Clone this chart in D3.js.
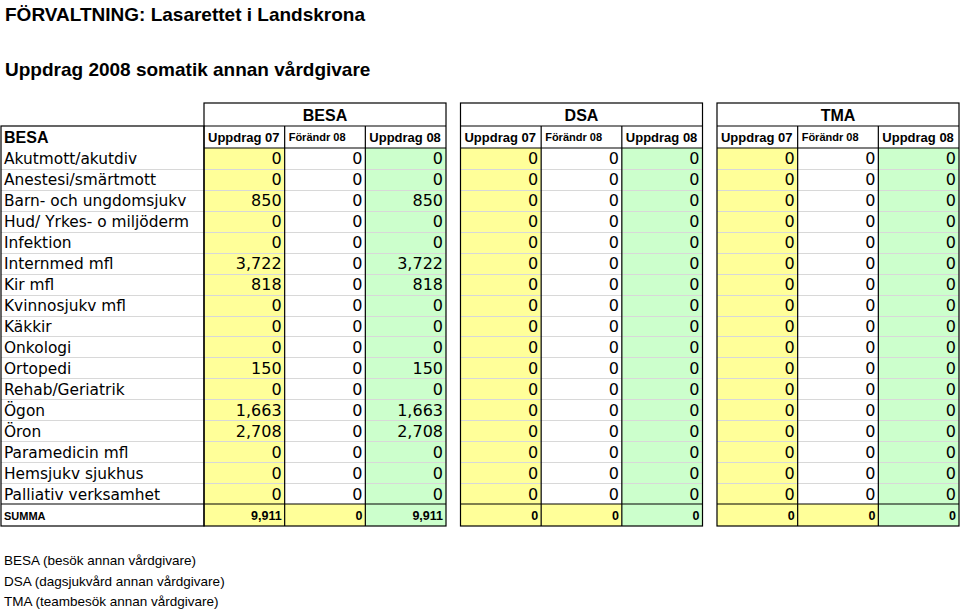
<!DOCTYPE html>
<html><head><meta charset="utf-8">
<script src="https://cdn.jsdelivr.net/npm/d3@7"></script>
<style>body{margin:0;background:#fff}svg{display:block}</style>
</head><body>
<script>
const title = "FÖRVALTNING: Lasarettet i Landskrona";
const subtitle = "Uppdrag 2008 somatik annan vårdgivare";
const groups = ["BESA", "DSA", "TMA"];
const columns = ["Uppdrag 07", "Förändr 08", "Uppdrag 08"];
const categories = ["Akutmott/akutdiv","Anestesi/smärtmott","Barn- och ungdomsjukv","Hud/ Yrkes- o miljöderm","Infektion","Internmed mfl","Kir mfl","Kvinnosjukv mfl","Käkkir","Onkologi","Ortopedi","Rehab/Geriatrik","Ögon","Öron","Paramedicin mfl","Hemsjukv sjukhus","Palliativ verksamhet"];
const besaUpp07   = [0,0,850,0,0,3722,818,0,0,0,150,0,1663,2708,0,0,0];
const besaForandr = [0,0,0,0,0,0,0,0,0,0,0,0,0,0,0,0,0];
const besaUpp08   = [0,0,850,0,0,3722,818,0,0,0,150,0,1663,2708,0,0,0];
const dsaUpp07    = [0,0,0,0,0,0,0,0,0,0,0,0,0,0,0,0,0];
const dsaForandr  = [0,0,0,0,0,0,0,0,0,0,0,0,0,0,0,0,0];
const dsaUpp08    = [0,0,0,0,0,0,0,0,0,0,0,0,0,0,0,0,0];
const tmaUpp07    = [0,0,0,0,0,0,0,0,0,0,0,0,0,0,0,0,0];
const tmaForandr  = [0,0,0,0,0,0,0,0,0,0,0,0,0,0,0,0,0];
const tmaUpp08    = [0,0,0,0,0,0,0,0,0,0,0,0,0,0,0,0,0];
const summaLabel = "SUMMA";
const rowHeaderLabel = "BESA";
const footnotes = ["BESA (besök annan vårdgivare)","DSA (dagsjukvård annan vårdgivare)","TMA (teambesök annan vårdgivare)"];

const series = {
  BESA: [besaUpp07, besaForandr, besaUpp08],
  DSA: [dsaUpp07, dsaForandr, dsaUpp08],
  TMA: [tmaUpp07, tmaForandr, tmaUpp08]
};

const W = 960, H = 609;
const svg = d3.select("body").append("svg").attr("width", W).attr("height", H);
const fmt = d3.format(",");
const bodyFont = "'DejaVu Sans', sans-serif";
const headFont = "'Liberation Sans', Arial, sans-serif";

const cellFill = ["#ffff99", "#ffffff", "#ccffcc"];
const sumFill = ["#ffff99", "#ffff99", "#ccffcc"];

// scales
const xGroup = d3.scaleBand().domain(groups).range([204, 959]).paddingInner(0.0565).paddingOuter(0);
const xCol = d3.scaleBand().domain(columns).range([0, xGroup.bandwidth()]);
const y = d3.scaleBand().domain(categories).range([148, 504]);
const labelX0 = 1, labelX1 = 204;
const hdr1 = [103, 126], hdr2 = [126, 148], sumRow = [504, 526];

// titles
svg.append("text").attr("x", 5).attr("y", 21).attr("font-family", headFont).attr("font-weight", "bold").attr("font-size", 19).text(title);
svg.append("text").attr("x", 5).attr("y", 76).attr("font-family", headFont).attr("font-weight", "bold").attr("font-size", 19).text(subtitle);

// body cell fills
groups.forEach(g => {
  const gx = xGroup(g);
  columns.forEach((c, ci) => {
    svg.append("rect").attr("x", gx + xCol(c)).attr("y", y.range()[0]).attr("width", xCol.bandwidth()).attr("height", y.range()[1] - y.range()[0]).attr("fill", cellFill[ci]);
    svg.append("rect").attr("x", gx + xCol(c)).attr("y", sumRow[0]).attr("width", xCol.bandwidth()).attr("height", sumRow[1] - sumRow[0]).attr("fill", sumFill[ci]);
  });
});

// gridlines between body rows
const grid = svg.append("g").attr("stroke", "#d8d8d8").attr("stroke-width", 1);
categories.slice(1).forEach(cat => {
  const yy = Math.round(y(cat)) + 0.5;
  grid.append("line").attr("x1", labelX0).attr("x2", labelX1).attr("y1", yy).attr("y2", yy);
  groups.forEach(g => {
    grid.append("line").attr("x1", xGroup(g)).attr("x2", xGroup(g) + xGroup.bandwidth()).attr("y1", yy).attr("y2", yy);
  });
});

// borders
const bd = svg.append("g").attr("stroke", "#000").attr("fill", "none").attr("stroke-width", 1.2);
groups.forEach(g => {
  const gx = xGroup(g), gw = xGroup.bandwidth();
  bd.append("rect").attr("x", gx).attr("y", hdr1[0]).attr("width", gw).attr("height", sumRow[1] - hdr1[0]);
  bd.append("line").attr("x1", gx).attr("x2", gx + gw).attr("y1", hdr1[1]).attr("y2", hdr1[1]);
  bd.append("line").attr("x1", gx).attr("x2", gx + gw).attr("y1", hdr2[1]).attr("y2", hdr2[1]);
  bd.append("line").attr("x1", gx).attr("x2", gx + gw).attr("y1", sumRow[0]).attr("y2", sumRow[0]);
  columns.slice(1).forEach(c => {
    bd.append("line").attr("x1", gx + xCol(c)).attr("x2", gx + xCol(c)).attr("y1", hdr2[0]).attr("y2", sumRow[1]);
  });
});
bd.append("rect").attr("x", labelX0).attr("y", hdr2[0]).attr("width", labelX1 - labelX0).attr("height", sumRow[1] - hdr2[0]);
bd.append("line").attr("x1", labelX0).attr("x2", labelX1).attr("y1", sumRow[0]).attr("y2", sumRow[0]);

// group headers
groups.forEach(g => {
  svg.append("text").attr("x", xGroup(g) + xGroup.bandwidth() / 2).attr("y", (hdr1[0] + hdr1[1]) / 2 + 6)
    .attr("text-anchor", "middle").attr("font-family", headFont).attr("font-weight", "bold").attr("font-size", 16).text(g);
  columns.forEach((c, ci) => {
    svg.append("text").attr("x", xGroup(g) + xCol(c) + 4).attr("y", (hdr2[0] + hdr2[1]) / 2 + (ci === 1 ? 4 : 5))
      .attr("font-family", headFont).attr("font-weight", "bold").attr("font-size", ci === 1 ? 11 : 13).text(c);
  });
});
svg.append("text").attr("x", 4).attr("y", (hdr2[0] + hdr2[1]) / 2 + 6).attr("font-family", headFont).attr("font-weight", "bold").attr("font-size", 16).text(rowHeaderLabel);

// row labels and values
categories.forEach((cat, i) => {
  const cy = y(cat) + y.bandwidth() / 2 + 6;
  svg.append("text").attr("x", 4).attr("y", cy).attr("font-family", bodyFont).attr("font-size", 15.4).text(cat);
  groups.forEach(g => {
    columns.forEach((c, ci) => {
      svg.append("text").attr("x", xGroup(g) + xCol(c) + xCol.bandwidth() - 3).attr("y", cy)
        .attr("text-anchor", "end").attr("font-family", bodyFont).attr("font-size", 16).text(fmt(series[g][ci][i]));
    });
  });
});

// summa row
const sy = (sumRow[0] + sumRow[1]) / 2 + 4.5;
svg.append("text").attr("x", 4).attr("y", sy).attr("font-family", headFont).attr("font-weight", "bold").attr("font-size", 11).text(summaLabel);
groups.forEach(g => {
  columns.forEach((c, ci) => {
    svg.append("text").attr("x", xGroup(g) + xCol(c) + xCol.bandwidth() - 3).attr("y", sy)
      .attr("text-anchor", "end").attr("font-family", headFont).attr("font-weight", "bold").attr("font-size", 12.5).text(fmt(d3.sum(series[g][ci])));
  });
});

// footnotes
footnotes.forEach((f, i) => {
  svg.append("text").attr("x", 4).attr("y", 565 + i * 20.5).attr("font-family", headFont).attr("font-size", 13.5).text(f);
});
</script>
</body></html>
